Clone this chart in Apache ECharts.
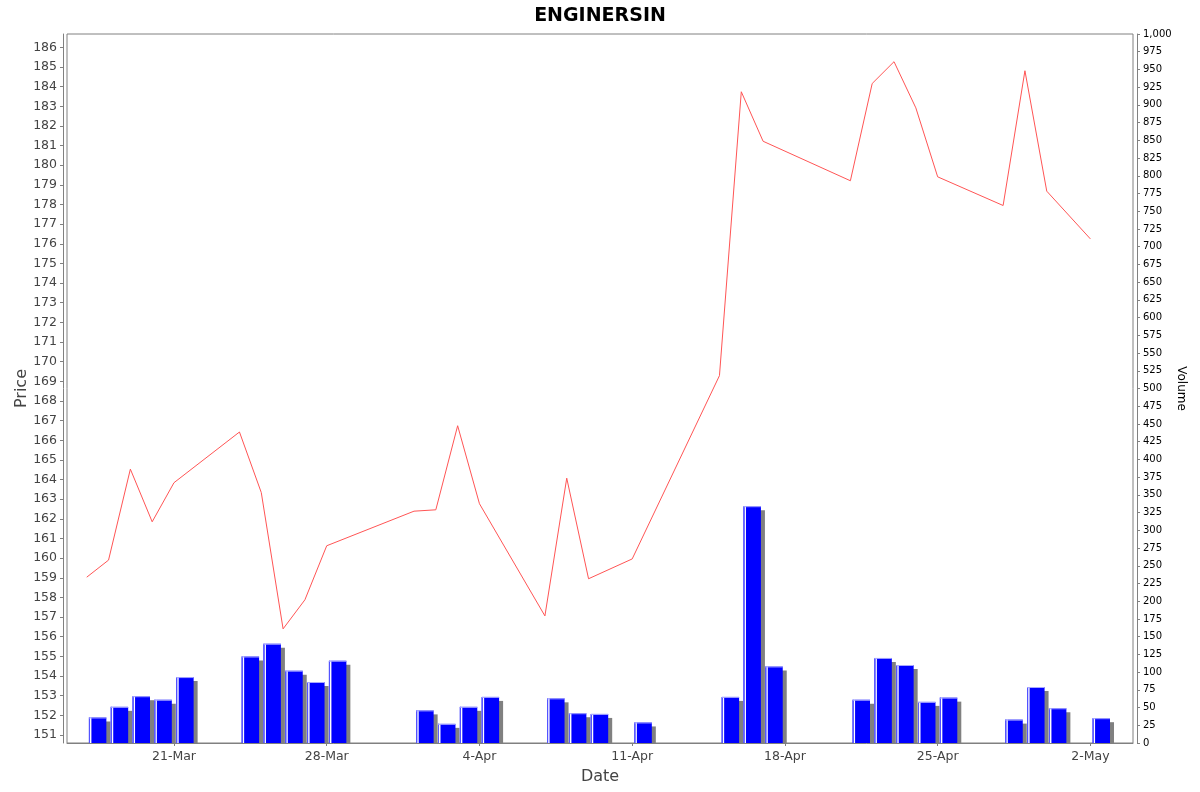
<!DOCTYPE html>
<html>
<head>
<meta charset="utf-8">
<script src="https://cdn.jsdelivr.net/npm/echarts@6/dist/echarts.min.js"></script>
<style>
html,body{margin:0;padding:0;background:#fff;}
#chart{width:1200px;height:792px;}
</style>
</head>
<body>
<div id="chart"></div>
<script>
// ---- data ----
const dates = [
  '2025-03-17','2025-03-18','2025-03-19','2025-03-20','2025-03-21',
  '2025-03-24','2025-03-25','2025-03-26','2025-03-27','2025-03-28',
  '2025-04-01','2025-04-02','2025-04-03','2025-04-04',
  '2025-04-07','2025-04-08','2025-04-09','2025-04-11',
  '2025-04-15','2025-04-16','2025-04-17',
  '2025-04-21','2025-04-22','2025-04-23','2025-04-24','2025-04-25',
  '2025-04-28','2025-04-29','2025-04-30','2025-05-02'
];
const prices = [
  159.03, 159.90, 164.53, 161.85, 163.84,
  166.42, 163.34, 156.40, 157.88, 160.63,
  162.39, 162.46, 166.74, 162.77,
  157.06, 164.07, 158.95, 159.96,
  169.29, 183.74, 181.22,
  179.21, 184.16, 185.27, 182.92, 179.41,
  177.95, 184.81, 178.68, 176.25
];
const volumes = [
  36, 51, 66, 61, 93,
  122, 140, 102, 86, 116,
  46, 27, 51, 65,
  63, 42, 41, 29,
  65, 334, 108,
  61, 120, 110, 58, 64,
  33, 79, 49, 35
];
const dateTicks = ['2025-03-21','2025-03-28','2025-04-04','2025-04-11','2025-04-18','2025-04-25','2025-05-02'];
const priceTicks = [151,152,153,154,155,156,157,158,159,160,161,162,163,164,165,166,167,168,169,170,
                    171,172,173,174,175,176,177,178,179,180,181,182,183,184,185,186];
const monthNames = ['Jan','Feb','Mar','Apr','May','Jun','Jul','Aug','Sep','Oct','Nov','Dec'];

// ---- helpers ----
const DAY = 86400000;
function toTime(s){ return new Date(s + 'T00:00:00').getTime(); }
function fmtDate(t){ const d = new Date(t); return d.getDate() + '-' + monthNames[d.getMonth()]; }

const xMin = toTime('2025-03-16') + 0.096 * DAY;
const xMax = toTime('2025-05-03') + 0.953 * DAY;

const lineData = dates.map((d, i) => [toTime(d), prices[i]]);
const barData = dates.map((d, i) => [toTime(d), volumes[i]]);
const dateTickValues = dateTicks.map(toTime);

const FONT = 'DejaVu Sans';
const chart = echarts.init(document.getElementById('chart'), null, {renderer: 'canvas'});

chart.setOption({
  animation: false,
  backgroundColor: '#ffffff',
  textStyle: {fontFamily: FONT},
  title: {
    text: 'ENGINERSIN',
    left: 'center',
    top: 2,
    textStyle: {fontFamily: FONT, fontSize: 19, fontWeight: 'bold', color: '#000000'}
  },
  grid: {
    left: 67, right: 67, top: 34, bottom: 49,
    outerBoundsMode: 'none',
    containLabel: false,
    show: true, borderColor: '#808080', borderWidth: 1, backgroundColor: '#ffffff'
  },
  xAxis: {
    type: 'value',
    min: xMin, max: xMax,
    offset: 4,
    name: 'Date',
    nameLocation: 'middle',
    nameGap: 22,
    nameMoveOverlap: false,
    nameTextStyle: {fontFamily: FONT, fontSize: 16, color: '#444444'},
    axisLine: {show: true, lineStyle: {color: '#808080', width: 1}},
    axisTick: {show: true, length: 3, lineStyle: {color: '#808080'}, customValues: dateTickValues},
    axisLabel: {
      show: true, margin: 3, color: '#444444', fontFamily: FONT, fontSize: 12.5,
      customValues: dateTickValues,
      formatter: v => fmtDate(v)
    },
    splitLine: {show: false}
  },
  yAxis: [
    {
      type: 'value',
      position: 'left',
      min: 150.59, max: 186.68,
      offset: 4,
      name: 'Price',
      nameLocation: 'middle',
      nameGap: 33,
      nameRotate: 90,
      nameMoveOverlap: false,
      nameTextStyle: {fontFamily: FONT, fontSize: 16, color: '#444444'},
      axisLine: {show: true, lineStyle: {color: '#808080', width: 1}},
      axisTick: {show: true, length: 3, lineStyle: {color: '#808080'}, customValues: priceTicks},
      axisLabel: {show: true, margin: 6, color: '#444444', fontFamily: FONT, fontSize: 12.5, customValues: priceTicks},
      splitLine: {show: false}
    },
    {
      type: 'value',
      position: 'right',
      min: 0, max: 1000, interval: 25,
      offset: 4,
      name: 'Volume',
      nameLocation: 'middle',
      nameGap: 38,
      nameRotate: -90,
      nameMoveOverlap: false,
      nameTextStyle: {fontFamily: FONT, fontSize: 12, color: '#000000'},
      axisLine: {show: true, lineStyle: {color: '#808080', width: 1}},
      axisTick: {show: true, length: 3, lineStyle: {color: '#808080'}},
      axisLabel: {
        show: true, margin: 6, color: '#000000', fontFamily: FONT, fontSize: 10,
        formatter: v => v.toLocaleString('en-US')
      },
      splitLine: {show: false}
    }
  ],
  series: [
    {
      type: 'custom',
      name: 'Volume',
      xAxisIndex: 0,
      yAxisIndex: 1,
      data: barData,
      encode: {x: 0, y: 1},
      z: 2,
      renderItem: function (params, api) {
        const t = api.value(0), v = api.value(1);
        const p0 = api.coord([t + 0.1 * DAY, v]);
        const p1 = api.coord([t + 0.9 * DAY, 0]);
        const x = p0[0], y = p0[1], w = p1[0] - p0[0], h = p1[1] - p0[1];
        return {
          type: 'group',
          children: [
            {type: 'rect', shape: {x: x + 4, y: y + 4, width: w, height: Math.max(0, h - 4)}, style: {fill: '#808080'}},
            {type: 'rect', shape: {x: x, y: y, width: w, height: h}, style: {fill: '#0000ff'}},
            {type: 'rect', shape: {x: x + 1, y: y, width: 1.5, height: h}, style: {fill: '#ffffff'}},
            {type: 'rect', shape: {x: x, y: y, width: 1, height: h}, style: {fill: '#5a5aff'}},
            {type: 'rect', shape: {x: x, y: y, width: w, height: 1}, style: {fill: '#a8a8ff'}}
          ]
        };
      }
    },
    {
      type: 'line',
      name: 'Price',
      xAxisIndex: 0,
      yAxisIndex: 0,
      data: lineData,
      showSymbol: false,
      symbol: 'none',
      z: 5,
      lineStyle: {color: '#ff5555', width: 1}
    }
  ]
});
</script>
</body>
</html>
